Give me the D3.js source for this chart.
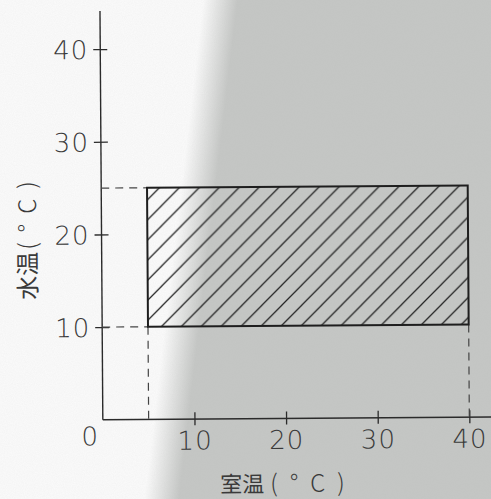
<!DOCTYPE html>
<html><head><meta charset="utf-8">
<script src="https://cdn.jsdelivr.net/npm/d3@7"></script>
<style>
html,body{margin:0;padding:0;background:#fbfbfb;}
svg{display:block;}
</style></head>
<body>
<script>
// ---- data ----
const xTicks = [10, 20, 30, 40];
const yTicks = [10, 20, 30, 40];
const roomTempRange = [5, 40];    // 室温 (°C)
const waterTempRange = [10, 25];  // 水温 (°C)
const xTitleMain = "室温", xTitleUnit = "(°C)";
const yTitleMain = "水温", yTitleUnit = "(°C)";
const originLabel = "0";

const W = 491, H = 499;
const svg = d3.select("body").append("svg").attr("width", W).attr("height", H);
const defs = svg.append("defs");

// background: white on the left fading into scanned grey
const grad = defs.append("linearGradient").attr("id", "bg")
  .attr("gradientUnits", "userSpaceOnUse")
  .attr("x1", 174).attr("y1", 248).attr("x2", 208).attr("y2", 252);
grad.append("stop").attr("offset", 0).attr("stop-color", "#fbfbfb");
grad.append("stop").attr("offset", 1).attr("stop-color", "#c5c7c5");
svg.append("rect").attr("width", W).attr("height", H).attr("fill", "url(#bg)");

// grain
const f = defs.append("filter").attr("id", "grain").attr("x", 0).attr("y", 0).attr("width", 1).attr("height", 1);
f.append("feTurbulence").attr("type", "fractalNoise").attr("baseFrequency", 0.9).attr("numOctaves", 2).attr("seed", 3);
f.append("feColorMatrix").attr("type", "matrix")
  .attr("values", "0 0 0 0 0.4  0 0 0 0 0.4  0 0 0 0 0.4  0 0 0 0.18 0");
svg.append("rect").attr("width", W).attr("height", H).attr("filter", "url(#grain)").attr("opacity", 0.5);

// hatch pattern
const pat = defs.append("pattern").attr("id", "hatch")
  .attr("patternUnits", "userSpaceOnUse").attr("width", 20).attr("height", 20)
  .attr("x", 2).attr("y", 5);
pat.append("path").attr("d", "M-5,5 L5,-5 M0,20 L20,0 M15,25 L25,15")
  .attr("stroke", "#262626").attr("stroke-width", 1.3);

const g = svg.append("g").attr("transform", "rotate(-0.4,285,300)");

const x = d3.scaleLinear().domain([0, 40]).range([102, 468.5]);
const y = d3.scaleLinear().domain([0, 40]).range([418.5, 47.8]);

const ink = "#2b2b2b";
const txt = "#3a3a3a";
const numFont = "'DejaVu Sans', sans-serif";
const cjkFont = "'Noto Sans CJK JP', sans-serif";

// axes
const xAxis = d3.axisBottom(x).tickValues(xTicks).tickSize(6).tickFormat(d3.format("d"));
const yAxis = d3.axisLeft(y).tickValues(yTicks).tickSize(7).tickFormat(d3.format("d"));

const gx = g.append("g").attr("transform", `translate(0,${y(0)})`).call(xAxis);
const gy = g.append("g").attr("transform", `translate(${x(0)},0)`).call(yAxis);

gx.select(".domain").remove();
gy.select(".domain").remove();
gx.selectAll(".tick line").attr("y1", -7).attr("y2", 6).attr("stroke", ink).attr("stroke-width", 1.3);
gy.selectAll(".tick line").attr("x1", -7).attr("x2", 7).attr("stroke", ink).attr("stroke-width", 1.3);

function numStyle(sel) {
  sel.style("font-family", numFont).style("font-weight", 200).style("font-size", "26px")
    .style("letter-spacing", "1px").attr("fill", txt);
}
gx.selectAll(".tick text").attr("y", 12).attr("dy", "0.71em").call(numStyle);
gy.selectAll(".tick text").attr("x", -12).attr("dy", "0.36em").call(numStyle);

// axis lines
g.append("line").attr("x1", x(0)).attr("x2", x(42.6)).attr("y1", y(0)).attr("y2", y(0))
  .attr("stroke", ink).attr("stroke-width", 1.4);
g.append("line").attr("x1", x(0)).attr("x2", x(0)).attr("y1", y(0)).attr("y2", y(44.1))
  .attr("stroke", ink).attr("stroke-width", 1.4);

// origin label
g.append("text").attr("x", x(0) - 4).attr("y", y(0) + 7).attr("dy", "0.71em")
  .attr("text-anchor", "end").call(numStyle).text(originLabel);

// dashed guides
const dash = "8,6";
waterTempRange.forEach(v => {
  g.append("line").attr("x1", x(0)).attr("x2", x(roomTempRange[0])).attr("y1", y(v)).attr("y2", y(v))
    .attr("stroke", "#444").attr("stroke-width", 1.2).attr("stroke-dasharray", dash);
});
roomTempRange.forEach(v => {
  g.append("line").attr("x1", x(v)).attr("x2", x(v)).attr("y1", y(waterTempRange[0])).attr("y2", y(0))
    .attr("stroke", "#444").attr("stroke-width", 1.2).attr("stroke-dasharray", dash);
});

// hatched rectangle
g.append("rect")
  .attr("x", x(roomTempRange[0])).attr("y", y(waterTempRange[1]))
  .attr("width", x(roomTempRange[1]) - x(roomTempRange[0]))
  .attr("height", y(waterTempRange[0]) - y(waterTempRange[1]))
  .attr("fill", "url(#hatch)").attr("stroke", "#1e1e1e").attr("stroke-width", 2);

// titles
const xt = g.append("text").attr("x", 219).attr("y", 484).attr("dy", "0.36em")
  .style("font-family", cjkFont).style("font-weight", 400).style("font-size", "22px").attr("fill", txt);
xt.append("tspan").text(xTitleMain);
xt.append("tspan").attr("dx", 6).style("font-weight", 300).style("letter-spacing", "12px").style("font-size", "24px").text(xTitleUnit);

const yt = g.append("text").attr("transform", "translate(28,298) rotate(-90)").attr("dy", "0.36em")
  .style("font-family", cjkFont).style("font-weight", 400).style("font-size", "24px").attr("fill", txt);
yt.append("tspan").text(yTitleMain);
yt.append("tspan").attr("dx", 2).style("font-weight", 300).style("letter-spacing", "10px").text(yTitleUnit);
</script>
</body></html>
